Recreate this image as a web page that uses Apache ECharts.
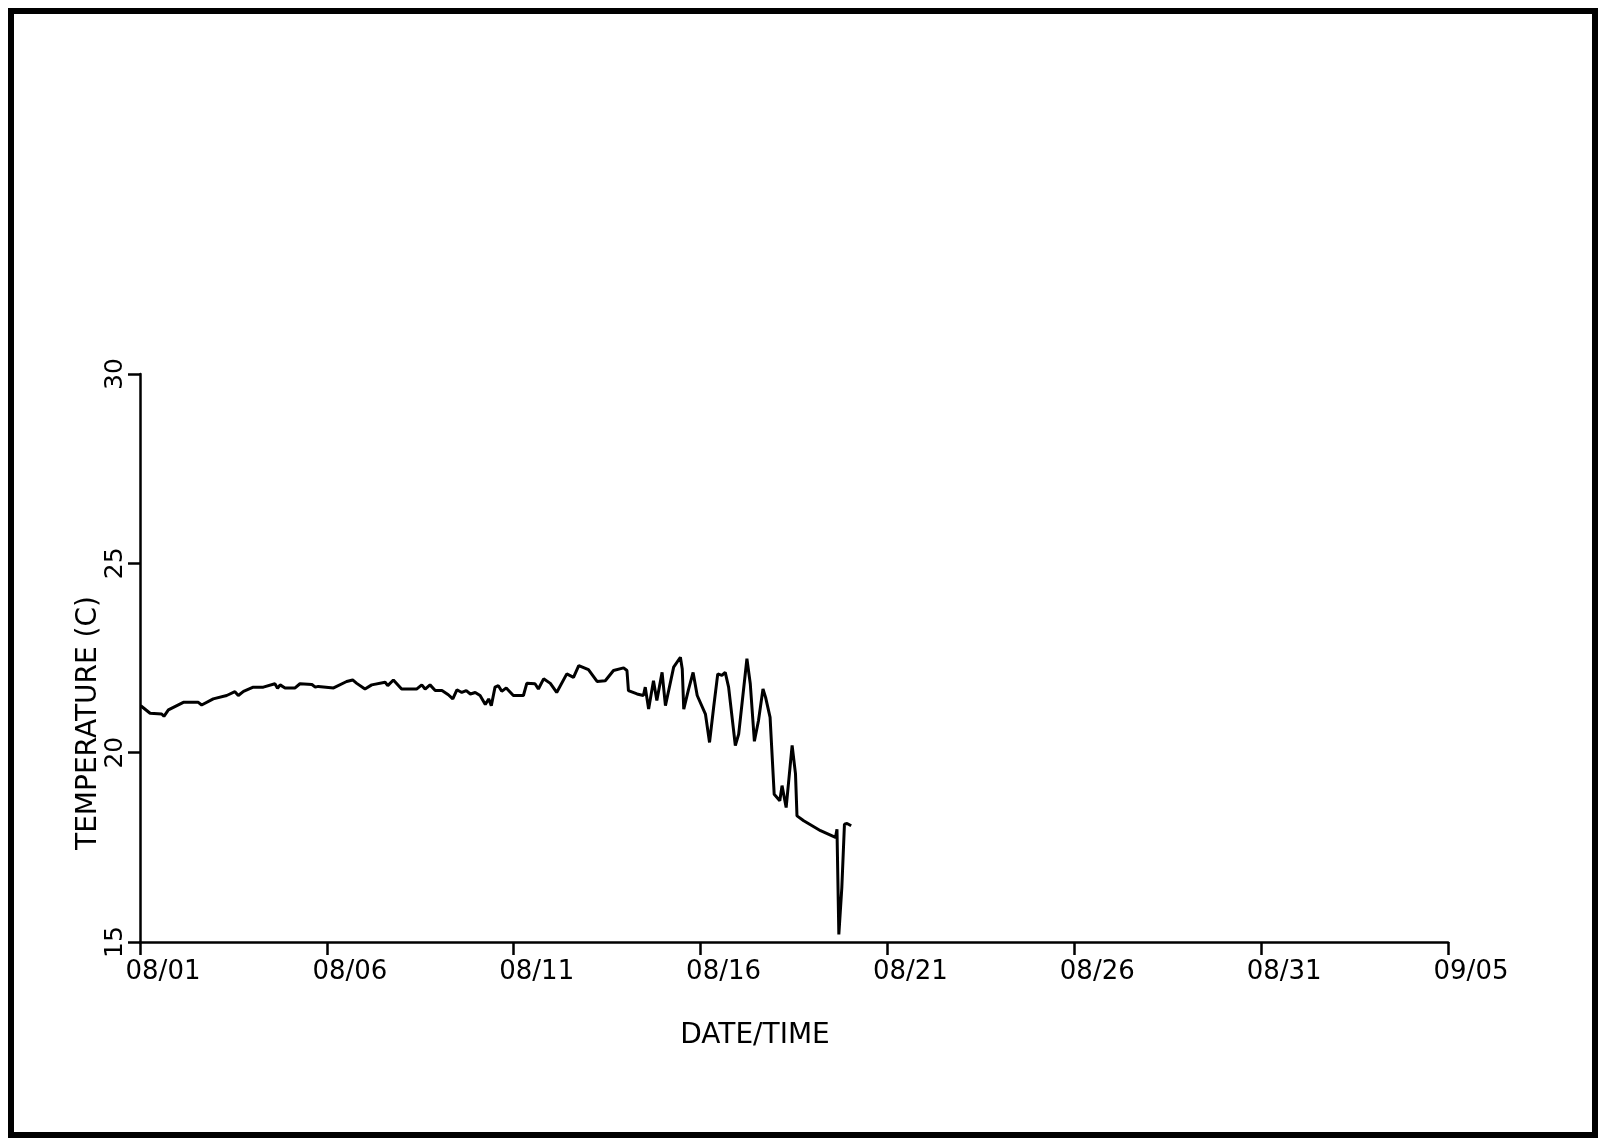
<!DOCTYPE html>
<html>
<head>
<meta charset="utf-8">
<script src="https://cdn.jsdelivr.net/npm/echarts@6/dist/echarts.min.js"></script>
<style>
  html, body { margin: 0; padding: 0; background: #fff; }
  #main { width: 1600px; height: 1140px; }
</style>
</head>
<body>
<div id="main"></div>
<script>
// days since 08/01
var days = [
  0.02, 0.27, 0.58, 0.64, 0.76, 1.16, 1.56, 1.65, 1.96, 2.32,
  2.54, 2.63, 2.77, 3.03, 3.30, 3.61, 3.68, 3.75, 3.88, 4.15,
  4.28, 4.60, 4.69, 4.77, 5.18, 5.53, 5.69, 5.80, 6.02, 6.20,
  6.56, 6.63, 6.78, 7.00, 7.40, 7.54, 7.63, 7.76, 7.90, 8.08,
  8.25, 8.37, 8.48, 8.61, 8.73, 8.84, 8.97, 9.10, 9.24, 9.33,
  9.40, 9.50, 9.59, 9.68, 9.80, 9.99, 10.26, 10.35, 10.57, 10.66,
  10.80, 10.98, 11.15, 11.42, 11.60, 11.74, 12.00, 12.23, 12.45, 12.67,
  12.94, 13.03, 13.07, 13.30, 13.47, 13.52, 13.61, 13.74, 13.83, 13.97,
  14.06, 14.28, 14.46, 14.51, 14.55, 14.68, 14.80, 14.91, 15.13, 15.24,
  15.35, 15.46, 15.57, 15.66, 15.75, 15.93, 16.02, 16.24, 16.33, 16.44,
  16.55, 16.67, 16.74, 16.86, 16.97, 17.12, 17.18, 17.29, 17.45, 17.54,
  17.58, 17.76, 18.21, 18.61, 18.65, 18.70, 18.78, 18.85, 18.92, 19.03
];
var temps = [
  21.24, 21.04, 21.02, 20.96, 21.13, 21.33, 21.33, 21.26, 21.42, 21.51,
  21.61, 21.51, 21.62, 21.73, 21.73, 21.82, 21.70, 21.79, 21.71, 21.71,
  21.82, 21.80, 21.73, 21.75, 21.71, 21.88, 21.92, 21.83, 21.68, 21.79,
  21.86, 21.77, 21.92, 21.68, 21.68, 21.79, 21.68, 21.79, 21.64, 21.64,
  21.53, 21.42, 21.66, 21.59, 21.64, 21.55, 21.59, 21.51, 21.27, 21.42,
  21.24, 21.73, 21.77, 21.62, 21.71, 21.51, 21.51, 21.83, 21.82, 21.68,
  21.95, 21.83, 21.59, 22.08, 21.99, 22.30, 22.19, 21.88, 21.90, 22.17,
  22.24, 22.17, 21.64, 21.55, 21.51, 21.73, 21.15, 21.90, 21.38, 22.12,
  21.24, 22.26, 22.52, 22.21, 21.15, 21.68, 22.12, 21.51, 21.02, 20.27,
  21.20, 22.08, 22.04, 22.12, 21.73, 20.19, 20.49, 22.48, 21.82, 20.30,
  20.85, 21.68, 21.46, 20.93, 18.90, 18.73, 19.13, 18.55, 20.19, 19.44,
  18.33, 18.20, 17.94, 17.76, 17.98, 15.20, 16.44, 18.11, 18.13, 18.07
];
var xTickLabels = ['08/01', '08/06', '08/11', '08/16', '08/21', '08/26', '08/31', '09/05'];

var seriesData = days.map(function (d, i) { return [d, temps[i]]; });

var chart = echarts.init(document.getElementById('main'), null, { renderer: 'canvas' });
var font = 'DejaVu Sans';

var option = {
  animation: false,
  backgroundColor: '#fff',
  grid: { left: 140, right: 152, top: 374, bottom: 198 },
  xAxis: {
    type: 'value',
    min: 0,
    max: 35,
    interval: 5,
    name: 'DATE/TIME',
    nameLocation: 'middle',
    nameGap: 80,
    nameMoveOverlap: false,
    nameTextStyle: { color: '#000', fontFamily: font, fontSize: 28, padding: [0, 78, 0, 0] },
    axisLine: { show: true, lineStyle: { color: '#000', width: 2.5 } },
    axisTick: { show: true, length: 13, lineStyle: { color: '#000', width: 2.5 } },
    axisLabel: {
      color: '#000', fontFamily: font, fontSize: 26, margin: 17,
      padding: [0, 0, 0, 46],
      formatter: function (v) { return xTickLabels[Math.round(v / 5)]; }
    },
    splitLine: { show: false }
  },
  yAxis: {
    type: 'value',
    min: 15,
    max: 30,
    interval: 5,
    name: 'TEMPERATURE (C)',
    nameLocation: 'middle',
    nameRotate: 90,
    nameGap: 37,
    nameMoveOverlap: false,
    nameTextStyle: { color: '#000', fontFamily: font, fontSize: 28, padding: [0, 130, 0, 0] },
    axisLine: { show: true, lineStyle: { color: '#000', width: 2.5 } },
    axisTick: { show: true, length: 12, lineStyle: { color: '#000', width: 2.5 } },
    axisLabel: { color: '#000', fontFamily: font, fontSize: 25, margin: 12, rotate: 90 },
    splitLine: { show: false }
  },
  series: [{
    type: 'line',
    data: seriesData,
    showSymbol: false,
    lineStyle: { color: '#000', width: 3 },
    itemStyle: { color: '#000' }
  }],
  graphic: [{
    type: 'rect',
    shape: { x: 11, y: 11, width: 1584, height: 1124 },
    style: { fill: null, stroke: '#000', lineWidth: 6 },
    silent: true
  }]
};

chart.setOption(option);
window.addEventListener('resize', chart.resize);
</script>
</body>
</html>
